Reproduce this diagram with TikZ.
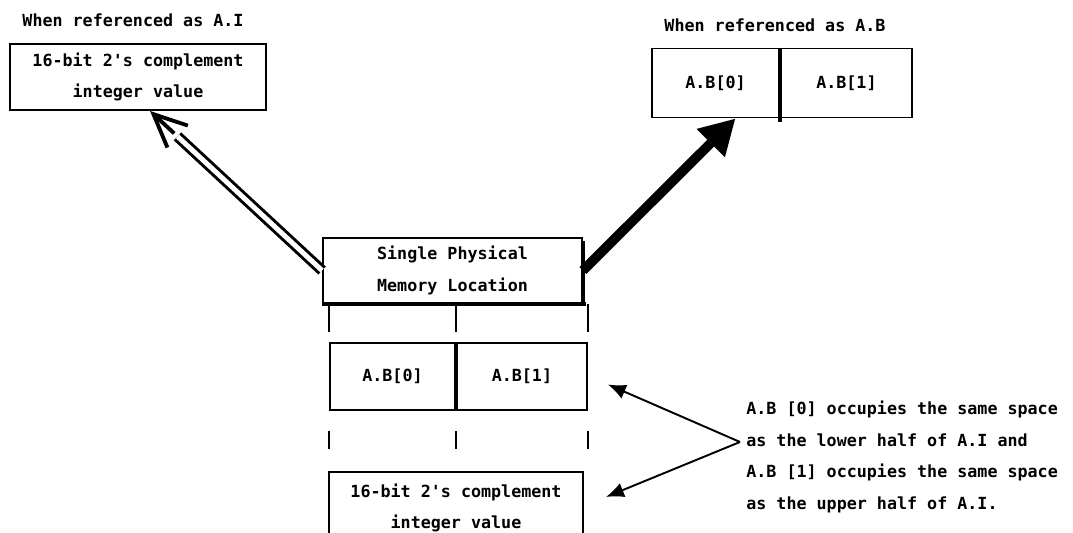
\documentclass[tikz,border=0pt]{standalone}
\usepackage{fontspec}
\setmonofont{DejaVu Sans Mono}
\usepackage{tikz}
\usetikzlibrary{arrows.meta,positioning,calc}
\tikzstyle{block} = [rectangle, draw, line width=1.1pt, align=center, inner sep=0pt]
\tikzstyle{cell} = [block, minimum height=1.38cm]
\tikzstyle{label} = [align=left, inner sep=0pt]
\tikzstyle{tick} = [line width=1.1pt]
\tikzstyle{divider} = [line width=2.4pt]
\tikzstyle{pointer} = [line width=1.1pt, -{Latex[length=0.36cm,width=0.3cm]}]
\newcommand{\plotfont}{\ttfamily\bfseries\fontsize{9.5}{18}\selectfont}

\begin{document}
\begin{tikzpicture}[x=0.02cm, y=0.02cm, font=\plotfont]
    \useasboundingbox (0,0) rectangle (1073,533);

    \node [block, minimum width=5.12cm, minimum height=1.32cm] (wordI) at (138,456) {16-bit 2's complement\\integer value};
    \node [label] (headI) at (133,513) {When referenced as A.I};

    \node [cell, minimum width=2.54cm] (topB0) at (715.5,450) {A.B[0]};
    \node [cell, minimum width=2.62cm, right=0pt of topB0] (topB1) {A.B[1]};
    \node [label] (headB) at (775,508) {When referenced as A.B};

    \node [block, minimum width=5.18cm, minimum height=1.3cm] (mem) at (452.5,262.5) {Single Physical\\Memory Location};

    \node [cell, minimum width=2.5cm, minimum height=1.34cm] (midB0) at (392.5,156.5) {A.B[0]};
    \node [cell, minimum width=2.6cm, minimum height=1.34cm, right=0pt of midB0] (midB1) {A.B[1]};

    \node [block, minimum width=5.08cm, minimum height=1.44cm] (lowI) at (456,25) {16-bit 2's complement\\integer value};

    \node [label, anchor=west] (note) at (746,76) {A.B [0] occupies the same space\\as the lower half of A.I and\\A.B [1] occupies the same space\\as the upper half of A.I.};
    \coordinate (apex) at (740,91);
    \coordinate (tipI) at ($(wordI.south)+(12,0)$);

    \draw[divider] (topB0.north east) -- ($(topB0.south east)+(0,-4)$);
    \draw[divider] (midB0.north east) -- (midB0.south east);
    \draw[divider] (mem.south west) -- ($(mem.south east)+(3,0)$);
    \draw[divider] ($(mem.north east)+(0,-4)$) -- (mem.south east);

    \foreach \n/\c in {midB0/west, midB0/east, midB1/east} {
        \draw[tick] ($(\n.north \c)+(0,10)$) -- (\n.north \c |- mem.south);
        \draw[tick] ($(\n.south \c)+(0,-20)$) -- ($(\n.south \c)+(0,-38)$);
    }

    \draw[double, line width=1.7pt, double distance=2.8pt, shorten >=0.75cm] (mem.west) -- (tipI);
    \draw[line width=2.2pt, -{Straight Barb[length=0.66cm,width=0.6cm]}] ($(tipI)!0.66cm!(mem.west)$) -- (tipI);
    \draw[line width=5.5pt, -{Triangle[length=0.7cm,width=0.75cm]}] (mem.east) -- ($(topB0.south)+(20,0)$);

    \draw[pointer] (apex) -- ($(midB1.east)+(20,-8)$);
    \draw[pointer] (apex) -- ($(lowI.east)+(22,11)$);
\end{tikzpicture}
\end{document}
